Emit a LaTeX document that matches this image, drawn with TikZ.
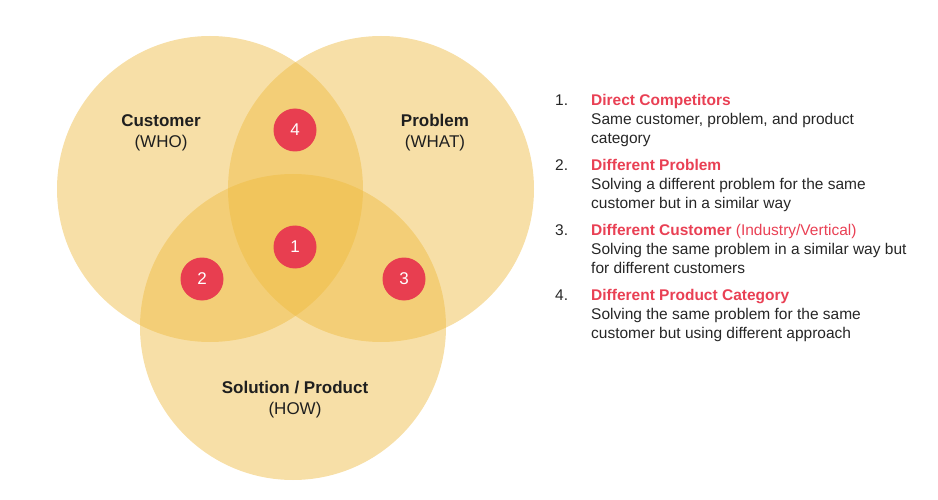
\documentclass[tikz,border=0pt]{standalone}
\usepackage{fontspec}
\setmainfont{Liberation Sans}
\usepackage{tikz}
\usetikzlibrary{positioning}
\definecolor{venn}{RGB}{238,185,60}
\definecolor{badgered}{RGB}{232,62,80}
\definecolor{titlered}{RGB}{233,64,84}
\definecolor{bodygray}{RGB}{38,38,38}

\begin{document}
\begin{tikzpicture}[x=1pt,y=-1pt,
    set/.style={circle,inner sep=0pt,minimum size=306pt,fill=venn,fill opacity=0.45,draw=none},
    badge/.style={circle,inner sep=0pt,minimum size=43pt,fill=badgered,text=white,font=\fontsize{17}{20}\selectfont},
    setlabel/.style={align=center,text=black!88,font=\fontsize{17}{21}\selectfont},
    itemno/.style={anchor=west,inner sep=0pt,text=bodygray,font=\fontsize{15.5}{19}\selectfont},
    itembody/.style={anchor=north west,inner sep=0pt,align=left,text=bodygray,font=\fontsize{15.5}{19}\selectfont}]
    \useasboundingbox (0,0) rectangle (938,500);
    % the three sets
    \node[set] (who)  at (210,189) {};
    \node[set] (what) at (381,189) {};
    \node[set] (how)  at (293,327) {};
    \node[setlabel] (wholbl)  at (161,132.5) {\textbf{Customer}\\(WHO)};
    \node[setlabel] (whatlbl) at (435,132.5) {\textbf{Problem}\\(WHAT)};
    \node[setlabel] (howlbl)  at (295,399.5) {\textbf{Solution / Product}\\(HOW)};
    % numbered overlaps
    \foreach \n/\x/\y in {1/295/247, 2/202/279, 3/404/279, 4/295/130}
      \node[badge] (b\n) at (\x,\y) {\n};
    % legend
    \foreach \n/\y/\t/\a/\b in {
        1/100/{Direct Competitors}/{Same customer, problem, and product}/{category},
        2/165/{Different Problem}/{Solving a different problem for the same}/{customer but in a similar way},
        3/230/{Different Customer} {\mdseries(Industry/Vertical)}/{Solving the same problem in a similar way but}/{for different customers},
        4/295/{Different Product Category}/{Solving the same problem for the same}/{customer but using different approach}}{
      \node[itemno] (no\n) at (555,\y) {\n.};
      \node[itembody] (item\n) at (591,\y-5.6) {\textcolor{titlered}{\bfseries\t}\\\a\\\b};
    }
\end{tikzpicture}
\end{document}
